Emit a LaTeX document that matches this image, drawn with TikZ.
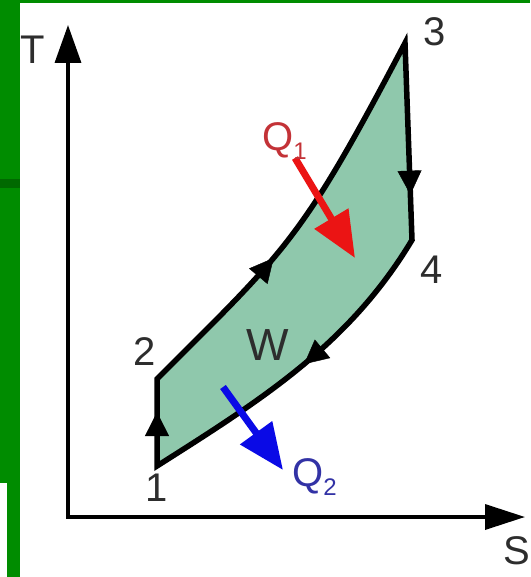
\documentclass[tikz,border=0pt]{standalone}
\usepackage{fontspec}
\setmainfont{Liberation Sans}
\usetikzlibrary{arrows.meta,decorations.markings}

\definecolor{framegreen}{RGB}{0,140,0}
\definecolor{framedark}{RGB}{0,105,0}
\definecolor{cyclefill}{RGB}{143,200,172}
\definecolor{heatred}{RGB}{235,20,20}
\definecolor{heatredtext}{RGB}{195,50,55}
\definecolor{heatblue}{RGB}{10,10,230}
\definecolor{heatbluetext}{RGB}{50,50,165}
\definecolor{labelgray}{RGB}{45,45,45}

\tikzset{
    midarrow/.style={decoration={markings,
        mark=at position #1 with {\arrow{Triangle[length=24pt,width=24pt]}}},
        postaction={decorate}},
    lbl/.style={font=\fontsize{40}{40}\selectfont, text=labelgray, inner sep=0pt},
    heatarrow/.style={line width=7pt, -{Triangle[length=46pt,width=38pt]}},
}

\begin{document}
\begin{tikzpicture}[x=1pt, y=-1pt]
        \useasboundingbox (0,0) rectangle (530,577);

        % Slide frame
        \fill[framegreen] (0,0) rectangle (530,3);
        \fill[framegreen] (0,0) rectangle (20,483);
        \fill[framegreen] (7,483) rectangle (20,577);
        \fill[framedark] (0,179) rectangle (20,188);

        % Axes
        \coordinate (origin) at (68,517);
        \coordinate (Ttip) at (68,25);
        \coordinate (Stip) at (525,517);
        \draw[line width=3.5pt, {Triangle[length=38pt,width=26pt]}-{Triangle[length=40pt,width=25pt]}]
            (Ttip) -- (origin) -- (Stip);
        \node[lbl] (Tlabel) at (33,50) {T};
        \node[lbl] (Slabel) at (517,551) {S};

        % Cycle corners
        \coordinate (p1) at (157,466);
        \coordinate (p2) at (157,379);
        \coordinate (p3) at (405,43);
        \coordinate (p4) at (412,240);

        % Cycle area and outline
        \filldraw[fill=cyclefill, draw=black, line width=5.5pt, line join=miter]
            (p1) -- (p2) .. controls (288,248) and (301,241) .. (p3)
            -- (p4) .. controls (349,345) and (261,400) .. cycle;

        % Direction arrows on the cycle
        \path[midarrow=0.62] (p1) -- (p2);
        \path[midarrow=0.40] (p2) .. controls (288,248) and (301,241) .. (p3);
        \path[midarrow=0.77] (p3) -- (p4);
        \path[midarrow=0.48] (p4) .. controls (349,345) and (261,400) .. (p1);

        % Corner labels
        \node[lbl] (n1) at (157,488) {1};
        \node[lbl] (n2) at (145,352) {2};
        \node[lbl] (n3) at (435,32) {3};
        \node[lbl] (n4) at (432,270) {4};
        \node[lbl, font=\fontsize{45}{45}\selectfont] (work) at (268,345) {W};

        % Heat in and out
        \coordinate (q1start) at (295,158);
        \coordinate (q1tip) at (355,258);
        \draw[heatarrow, heatred] (q1start) -- (q1tip);
        \node[lbl, text=heatredtext, anchor=base west] (Q1) at (262,151)
            {Q\raisebox{-9pt}{\fontsize{24}{24}\selectfont 1}};

        \coordinate (q2start) at (223,387);
        \coordinate (q2tip) at (283,470);
        \draw[heatarrow, heatblue] (q2start) -- (q2tip);
        \node[lbl, text=heatbluetext, anchor=base west] (Q2) at (292,486)
            {Q\raisebox{-9pt}{\fontsize{24}{24}\selectfont 2}};
\end{tikzpicture}
\end{document}
